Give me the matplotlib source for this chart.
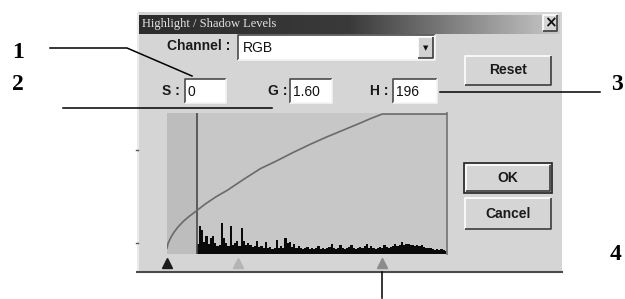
import numpy as np
import matplotlib
matplotlib.use('Agg')
from matplotlib import pyplot as plt
from matplotlib.patches import Rectangle
from matplotlib.colors import LinearSegmentedColormap

# %% data read off the dialog
# tone curve: input level -> output level
curve_in = [0, 1, 3, 6, 10, 15, 20, 27, 35, 45, 55, 70, 85, 100, 115, 130, 145, 160, 175, 185, 196, 255]
curve_out = [0, 9, 18, 29, 40, 51, 60, 71, 84, 98, 110, 131, 151, 166, 182, 197, 211, 224, 237, 246, 255, 255]

# histogram, 2-level bins starting at 28
hist_levels = list(range(28, 256, 2))
hist_counts = [10, 28, 24, 12, 18, 10, 16, 18, 11, 8,
               9, 31, 16, 11, 8, 28, 9, 11, 13, 8,
               26, 13, 9, 11, 9, 7, 8, 13, 7, 8,
               6, 12, 6, 7, 5, 6, 14, 6, 8, 6,
               16, 11, 12, 7, 10, 6, 8, 6, 5, 6,
               7, 5, 6, 5, 6, 8, 5, 6, 5, 6,
               7, 10, 6, 5, 6, 9, 6, 5, 6, 7,
               9, 6, 5, 6, 7, 6, 8, 10, 6, 8,
               6, 5, 6, 7, 6, 9, 7, 6, 7, 8,
               10, 8, 9, 12, 9, 10, 10, 9, 9, 8,
               9, 8, 9, 7, 6, 6, 6, 5, 4, 5,
               4, 5, 4, 3]
shadow_cut = 27
marker_levels = [0, 65, 196]
marker_colors = ['#1c1c1c', '#b4b4b4', '#8c8c8c']

title = 'Highlight / Shadow Levels'
channel = 'RGB'
s_val, g_val, h_val = '0', '1.60', '196'
callouts = ['1', '2', '3', '4']

# %%
fig = plt.figure(figsize=(6.25, 2.99), dpi=100)
fig.patch.set_facecolor('white')
bg = fig.add_axes([0, 0, 1, 1])
bg.axis('off')

ui = dict(family='Liberation Sans', fontweight='bold', fontsize=10, color='#1a1a1a', va='center')
val = dict(family='Liberation Sans', fontsize=10, color='#111111', va='center')


def bevel(x0, y0, x1, y1, face='#d5d5d5', sunken=False, lw=1.2):
    bg.add_patch(Rectangle((x0, y0), x1 - x0, y1 - y0, fc=face, ec='none', zorder=2))
    light, dark = '#ffffff', '#3c3c3c'
    if sunken:
        light, dark = '#4a4a4a', '#f4f4f4'
    bg.plot([x0, x0, x1], [y1, y0, y0], color=light, lw=lw, zorder=3, solid_capstyle='butt')
    bg.plot([x0, x1, x1], [y1, y1, y0], color=dark, lw=lw, zorder=3, solid_capstyle='butt')


# dialog body
bg.add_patch(Rectangle((137, 12), 425, 260, fc='#d5d5d5', ec='none', zorder=1))
bg.plot([137.5, 137.5], [12, 272], color='#f0f0f0', lw=1.2, zorder=2)
bg.plot([137, 562], [271.5, 271.5], color='#4a4a4a', lw=1.5, zorder=2)
bg.plot([136, 138], [150, 150], color='#555555', lw=1, zorder=2)
bg.plot([136, 138], [243, 243], color='#555555', lw=1, zorder=2)

# title bar
grad = np.linspace(0, 1, 256).reshape(1, -1)
cmap = LinearSegmentedColormap.from_list('tb', ['#2c2c2c', '#3a3a3a', '#c8c8c8'])
bg.imshow(grad, cmap=cmap, extent=(139, 560, 34, 15), aspect='auto', zorder=2)
bg.text(142, 24.5, title, family='Liberation Serif', fontsize=9, color='#e4e4e4',
        va='center', ha='left', zorder=4)
bevel(543, 15, 557, 31)
bg.text(550, 23, '\u00d7', fontsize=11, fontweight='bold', ha='center', va='center',
        color='#111111', zorder=4)

# channel row
bg.text(167, 46, 'Channel :', ha='left', zorder=4, **ui)
bevel(238, 35, 435, 60, face='white', sunken=True)
bg.text(243, 48, channel, ha='left', zorder=4, **val)
bevel(418, 37, 433, 58, face='#d2d2d2')
bg.text(425.5, 48, '\u25bc', fontsize=5, ha='center', va='center', color='#111111', zorder=4)

# S / G / H fields
for lab, lx, bx0, bx1, txt in [('S :', 162, 185, 226, s_val),
                               ('G :', 268, 290, 332, g_val),
                               ('H :', 370, 393, 437, h_val)]:
    bg.text(lx, 91, lab, ha='left', zorder=4, **ui)
    bevel(bx0, 79, bx1, 103, face='white', sunken=True)
    bg.text(bx0 + 3, 92, txt, ha='left', zorder=4, **val)

# buttons
bevel(465, 56, 551, 85)
bg.text(508, 70.5, 'Reset', ha='center', zorder=4, **ui)
bg.add_patch(Rectangle((464, 163), 88, 30, fc='none', ec='#222222', lw=1.2, zorder=3))
bevel(466, 165, 550, 191)
bg.text(508, 178, 'OK', ha='center', zorder=4, **ui)
bevel(465, 198, 551, 229)
bg.text(508, 213.5, 'Cancel', ha='center', zorder=4, **ui)

# callout leaders and numbers
lead = dict(color='black', lw=1.1, zorder=6)
bg.plot([50, 127, 192], [48, 48, 76], **lead)
bg.plot([63, 272], [108, 108], **lead)
bg.plot([440, 600], [92, 92], **lead)
bg.plot([382, 382], [272, 298], **lead)
num = dict(family='Liberation Serif', fontweight='bold', fontsize=17, ha='center',
           va='center', color='black', zorder=6)
for t, x, y in zip(callouts, [18, 18, 617, 616], [53, 85, 84, 254]):
    bg.text(x, y, t, **num)

bg.set_xlim(0, 625)
bg.set_ylim(299, 0)

# %% histogram window
ax = fig.add_axes([167 / 625, (299 - 254) / 299, 280 / 625, 141 / 299])
ax.set_facecolor('#c7c7c7')
ax.axvspan(0, shadow_cut, color='#bdbdbd', zorder=0)
ax.bar(hist_levels, hist_counts, width=2.0, color='#0a0a0a', linewidth=0, zorder=2)
ax.axvline(shadow_cut, color='#4a4a4a', lw=1.2, zorder=3)
ax.set_xlim(0, 255)
ax.set_ylim(0, 141)
for s in ['top', 'left', 'bottom']:
    ax.spines[s].set_visible(False)
ax.spines['right'].set_color('#7a7a7a')
ax.spines['right'].set_linewidth(1.3)
ax.set_xticks([])
ax.set_yticks([])
for lv, c in zip(marker_levels, marker_colors):
    ax.plot([lv], [-8.5], marker='^', ms=7, color=c, mec=c, clip_on=False, zorder=5)

ax2 = ax.twinx()
ax2.plot(curve_in, curve_out, color='#6a6a6a', lw=1.2, zorder=4)
ax2.set_ylim(-11.4, 257)
ax2.set_xlim(0, 255)
ax2.axis('off')

fig.savefig('out.png', dpi=100)
